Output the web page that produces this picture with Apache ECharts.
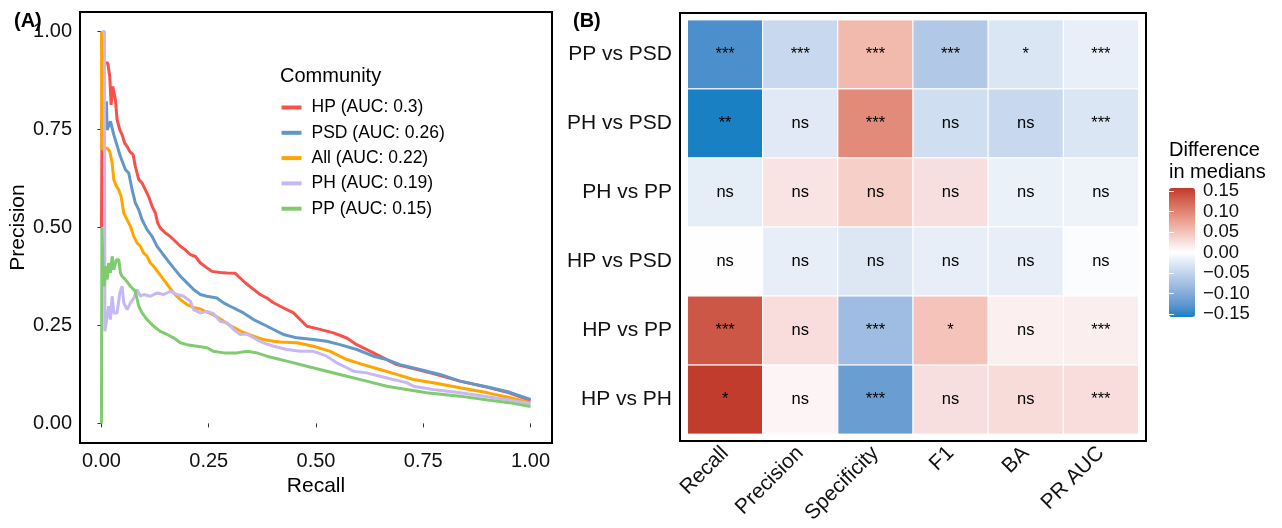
<!DOCTYPE html>
<html><head><meta charset="utf-8">
<script src="https://cdn.jsdelivr.net/npm/echarts@6/dist/echarts.min.js"></script>
<style>html,body{margin:0;padding:0;background:#fff}#c{width:1282px;height:528px}</style>
</head><body><div id="c"></div>
<script>
// ---------- Panel A: precision-recall curves ----------
const seriesNames = ['HP (AUC: 0.3)','PSD (AUC: 0.26)','All (AUC: 0.22)','PH (AUC: 0.19)','PP (AUC: 0.15)'];
const hpRecall = [0,0.002,0.0147,0.0194,0.0225,0.0264,0.0326,0.0365,0.0427,0.048,0.0543,0.0597,0.066,0.0737,0.079,0.0869,0.0946,0.1024,0.11,0.118,0.1257,0.131,0.137,0.149,0.1606,0.172,0.184,0.195,0.207,0.219,0.230,0.246,0.2576,0.277,0.2925,0.312,0.3195,0.335,0.3545,0.370,0.3856,0.401,0.4166,0.4476,0.4787,0.5097,0.5406,0.5718,0.595,0.6337,0.665,0.688,0.727,0.773,0.8355,0.9,0.95,1.0];
const hpPrecision = [0.5,0.92,0.92,0.885,0.813,0.86,0.826,0.775,0.749,0.737,0.715,0.707,0.694,0.686,0.656,0.622,0.614,0.596,0.579,0.554,0.537,0.512,0.499,0.486,0.477,0.465,0.452,0.4435,0.431,0.426,0.41,0.397,0.388,0.385,0.384,0.383,0.375,0.359,0.342,0.329,0.320,0.308,0.299,0.282,0.248,0.24,0.231,0.218,0.201,0.18,0.163,0.15,0.14,0.127,0.108,0.092,0.078,0.058];
const psdRecall = [0,0.0016,0.0116,0.0132,0.021,0.0287,0.0442,0.0559,0.0636,0.0714,0.079,0.0869,0.0946,0.1063,0.118,0.1296,0.1412,0.153,0.168,0.184,0.1994,0.2148,0.2304,0.246,0.269,0.2846,0.300,0.331,0.3545,0.378,0.401,0.4166,0.424,0.4554,0.494,0.5252,0.556,0.595,0.6337,0.665,0.696,0.742,0.789,0.8355,0.9,0.95,1.0];
const psdPrecision = [0.75,0.775,0.822,0.749,0.771,0.737,0.681,0.6475,0.639,0.5965,0.5625,0.5455,0.52,0.4945,0.4775,0.452,0.435,0.418,0.397,0.3755,0.3587,0.3416,0.329,0.3245,0.320,0.3077,0.299,0.282,0.265,0.2524,0.2396,0.231,0.227,0.2184,0.214,0.2098,0.201,0.1886,0.1716,0.163,0.150,0.1376,0.125,0.108,0.093,0.08,0.061];
const allRecall = [0,0.001,0.0132,0.0194,0.0249,0.0287,0.0349,0.0403,0.0458,0.052,0.0597,0.0675,0.0752,0.0831,0.0908,0.0984,0.1063,0.114,0.1217,0.1333,0.145,0.1566,0.168,0.184,0.1994,0.2148,0.2304,0.246,0.2613,0.2846,0.300,0.331,0.3545,0.3777,0.401,0.4166,0.4554,0.494,0.533,0.5718,0.610,0.649,0.688,0.727,0.773,0.8355,0.9,0.95,1.0];
const allPrecision = [1.0,0.70,0.703,0.694,0.6645,0.622,0.605,0.5965,0.579,0.537,0.52,0.503,0.4775,0.4606,0.452,0.435,0.4265,0.4095,0.401,0.384,0.367,0.35,0.333,0.316,0.3033,0.296,0.292,0.284,0.277,0.261,0.25,0.232,0.2225,0.214,0.2098,0.2075,0.2057,0.197,0.184,0.163,0.15,0.1376,0.125,0.112,0.104,0.091,0.078,0.066,0.052];
const phRecall = [0.002,0.007,0.008,0.017,0.021,0.0249,0.0287,0.0365,0.0427,0.048,0.052,0.0597,0.0675,0.0752,0.0831,0.0908,0.0984,0.114,0.1296,0.145,0.1606,0.176,0.1916,0.207,0.2148,0.2304,0.246,0.2613,0.277,0.2925,0.308,0.3235,0.339,0.362,0.3777,0.401,0.432,0.463,0.494,0.5252,0.5485,0.5718,0.587,0.618,0.649,0.68,0.711,0.727,0.773,0.8355,0.9,0.95,1.0];
const phPrecision = [1.0,1.0,0.235,0.299,0.265,0.3245,0.282,0.282,0.333,0.35,0.3077,0.2906,0.3077,0.320,0.3416,0.3245,0.329,0.3245,0.333,0.329,0.337,0.329,0.3245,0.312,0.2906,0.282,0.286,0.28,0.26,0.2567,0.2396,0.227,0.228,0.214,0.2057,0.197,0.1886,0.184,0.184,0.1716,0.1547,0.142,0.1333,0.129,0.1205,0.112,0.104,0.095,0.0867,0.078,0.068,0.06,0.05];
const ppRecall = [0,0.001,0.004,0.007,0.0093,0.0132,0.017,0.021,0.0249,0.0287,0.0349,0.0403,0.0442,0.048,0.0559,0.0675,0.079,0.0869,0.0946,0.1063,0.1217,0.137,0.153,0.168,0.184,0.1994,0.2227,0.246,0.2613,0.2846,0.3158,0.339,0.362,0.3856,0.4166,0.432,0.4787,0.5252,0.5718,0.618,0.665,0.711,0.758,0.8355,0.9,0.95,1.0];
const ppPrecision = [0.0,0.5,0.38,0.35,0.401,0.367,0.4095,0.384,0.4265,0.3925,0.418,0.418,0.384,0.3755,0.367,0.35,0.337,0.299,0.282,0.265,0.248,0.235,0.227,0.2184,0.2057,0.201,0.197,0.193,0.184,0.18,0.18,0.184,0.18,0.1716,0.163,0.159,0.146,0.1333,0.1205,0.108,0.095,0.0867,0.078,0.0696,0.06,0.053,0.043];
const axisTicksA = [0, 0.25, 0.5, 0.75, 1];

// ---------- Panel B: heatmap of differences in medians ----------
const colLabels = ['Recall','Precision','Specificity','F1','BA','PR AUC'];
const rowLabels = ['PP vs PSD','PH vs PSD','PH vs PP','HP vs PSD','HP vs PP','HP vs PH'];
const diffValues = [
  [-0.136,-0.046, 0.057,-0.065,-0.030,-0.019],
  [-0.157,-0.026, 0.094,-0.039,-0.046,-0.030],
  [-0.022, 0.023, 0.039, 0.026,-0.017,-0.014],
  [-0.001,-0.020,-0.029,-0.020,-0.020,-0.003],
  [ 0.135, 0.028,-0.079, 0.049, 0.013, 0.014],
  [ 0.155, 0.008,-0.118, 0.026, 0.029, 0.028]
];
const sigLabels = [
  ['***','***','***','***','*','***'],
  ['**','ns','***','ns','ns','***'],
  ['ns','ns','ns','ns','ns','ns'],
  ['ns','ns','ns','ns','ns','ns'],
  ['***','ns','***','*','ns','***'],
  ['*','ns','***','ns','ns','***']
];
const colorbarTicks = [-0.15,-0.10,-0.05,0,0.05,0.10,0.15];
const colorLimit = 0.157;

const FONT = "'Liberation Sans', Arial, Helvetica, sans-serif";
const lineColors = ['#F6524B','#6297C6','#FFA500','#C6B8F5','#80CB6F'];
const scaleColors = ['#1A80C4','#5794CE','#7EA8D8','#A0BDE2','#C0D3EC','#E0E9F5','#FFFFFF','#F8DFDF','#F4BFB3','#EA9F8F','#DE7E6C','#D05D4B','#C0392B'];

const curves = [[hpRecall,hpPrecision],[psdRecall,psdPrecision],[allRecall,allPrecision],[phRecall,phPrecision],[ppRecall,ppPrecision]];
const lineSeries = curves.map((c, i) => ({
  name: seriesNames[i], type: 'line', xAxisIndex: 0, yAxisIndex: 0,
  data: c[0].map((r, k) => [r, c[1][k]]),
  showSymbol: false, symbol: 'none', lineStyle: {width: 3, color: lineColors[i]},
  itemStyle: {color: lineColors[i]}, z: 2 + i
}));

const cellData = [];
diffValues.forEach((row, r) => row.forEach((v, c) => cellData.push([c, r, v])));

function renderCell(params, api) {
  const c = api.value(0), r = api.value(1);
  const a = api.coord([c - 0.5, r - 0.5]), b = api.coord([c + 0.5, r + 0.5]);
  const x = Math.min(a[0], b[0]), y = Math.min(a[1], b[1]);
  const w = Math.abs(b[0] - a[0]), h = Math.abs(b[1] - a[1]);
  return {type: 'group', children: [
    {type: 'rect', shape: {x: x, y: y, width: w, height: h}, style: {fill: api.visual('color'), stroke: '#fff', lineWidth: 1}},
    {type: 'text', x: x + w / 2, y: y + h / 2, style: {text: sigLabels[r][c], align: 'center', verticalAlign: 'middle', fontSize: 16.5, fontFamily: FONT, fill: '#000'}}
  ]};
}

const tickText = {color: '#111', fontSize: 20, fontFamily: FONT};
const chart = echarts.init(document.getElementById('c'), null, {renderer: 'canvas'});
chart.setOption({
  animation: false,
  backgroundColor: '#fff',
  title: [
    {text: '(A)', left: 14, top: 11, padding: 0, textStyle: {fontSize: 20, fontWeight: 'bold', fontFamily: FONT, color: '#000'}},
    {text: '(B)', left: 573, top: 11, padding: 0, textStyle: {fontSize: 20, fontWeight: 'bold', fontFamily: FONT, color: '#000'}},
    {text: 'Community', left: 280, top: 66, padding: 0, textStyle: {fontSize: 20, fontWeight: 'normal', fontFamily: FONT, color: '#000'}},
    {text: 'Difference\nin medians', left: 1169, top: 140, padding: 0, textStyle: {fontSize: 20, lineHeight: 21.7, fontWeight: 'normal', fontFamily: FONT, color: '#000'}}
  ],
  legend: {
    data: seriesNames, orient: 'vertical', left: 281.5, top: 98.5, padding: 0,
    icon: 'rect', itemWidth: 20, itemHeight: 4, itemGap: 7.3,
    textStyle: {fontSize: 17.5, fontFamily: FONT, color: '#000', padding: [0, 0, 0, 5]}
  },
  grid: [
    {left: 80, top: 12, width: 472, height: 431, show: true, borderColor: '#000', borderWidth: 2, backgroundColor: 'transparent'},
    {left: 680, top: 13, width: 466, height: 428, show: true, borderColor: '#000', borderWidth: 2, backgroundColor: 'transparent'},
    {left: 1169, top: 188, width: 26, height: 129}
  ],
  xAxis: [
    {type: 'value', gridIndex: 0, min: -0.05, max: 1.05, splitLine: {show: false}, axisLine: {show: false},
     axisTick: {show: true, length: 4, customValues: axisTicksA, lineStyle: {color: '#333'}},
     axisLabel: {customValues: axisTicksA, formatter: v => v.toFixed(2), margin: 8, ...tickText},
     name: 'Recall', nameLocation: 'middle', nameGap: 31, nameTextStyle: {fontSize: 21, fontFamily: FONT, color: '#000'}},
    {type: 'value', gridIndex: 1, min: -0.6, max: 5.6, splitLine: {show: false}, axisLine: {show: false},
     axisTick: {show: true, length: 4, customValues: [0,1,2,3,4,5], lineStyle: {color: '#333'}},
     axisLabel: {customValues: [0,1,2,3,4,5], formatter: v => colLabels[Math.round(v)], rotate: 45, margin: 9, color: '#111', fontSize: 21, fontFamily: FONT}},
    {type: 'value', gridIndex: 2, min: 0, max: 1, show: false}
  ],
  yAxis: [
    {type: 'value', gridIndex: 0, min: -0.05, max: 1.05, splitLine: {show: false}, axisLine: {show: false},
     axisTick: {show: true, length: 4, customValues: axisTicksA, lineStyle: {color: '#333'}},
     axisLabel: {customValues: axisTicksA, formatter: v => v.toFixed(2), margin: 8, ...tickText},
     name: 'Precision', nameLocation: 'middle', nameRotate: 90, nameGap: 51, nameTextStyle: {fontSize: 21, fontFamily: FONT, color: '#000'}},
    {type: 'value', gridIndex: 1, min: -0.6, max: 5.6, inverse: true, splitLine: {show: false}, axisLine: {show: false},
     axisTick: {show: true, length: 4, customValues: [0,1,2,3,4,5], lineStyle: {color: '#333'}},
     axisLabel: {customValues: [0,1,2,3,4,5], formatter: v => rowLabels[Math.round(v)], margin: 8, color: '#111', fontSize: 21, fontFamily: FONT}},
    {type: 'value', gridIndex: 2, min: -colorLimit, max: colorLimit, position: 'right', z: 10, splitLine: {show: false}, axisLine: {show: false},
     axisTick: {show: true, inside: true, length: 5, customValues: colorbarTicks, lineStyle: {color: '#fff', width: 1}},
     axisLabel: {customValues: colorbarTicks, formatter: v => (v < -1e-9 ? '\u2212' : '') + Math.abs(v).toFixed(2), margin: 8, color: '#111', fontSize: 18.5, fontFamily: FONT}},
    {type: 'value', gridIndex: 2, min: -colorLimit, max: colorLimit, position: 'left', z: 10, splitLine: {show: false}, axisLine: {show: false},
     axisTick: {show: true, inside: true, length: 5, customValues: colorbarTicks, lineStyle: {color: '#fff', width: 1}},
     axisLabel: {show: false}}
  ],
  visualMap: {
    type: 'continuous', min: -colorLimit, max: colorLimit, dimension: 2, seriesIndex: 5,
    left: 1169, top: 188, itemWidth: 26, itemHeight: 129, padding: 0,
    calculable: false, text: null, showLabel: false, hoverLink: false,
    inRange: {color: scaleColors}
  },
  series: lineSeries.concat([
    {type: 'custom', xAxisIndex: 1, yAxisIndex: 1, renderItem: renderCell, data: cellData,
     encode: {x: 0, y: 1}, dimensions: ['col', 'row', 'value'], z: 2}
  ])
});
</script></body></html>
